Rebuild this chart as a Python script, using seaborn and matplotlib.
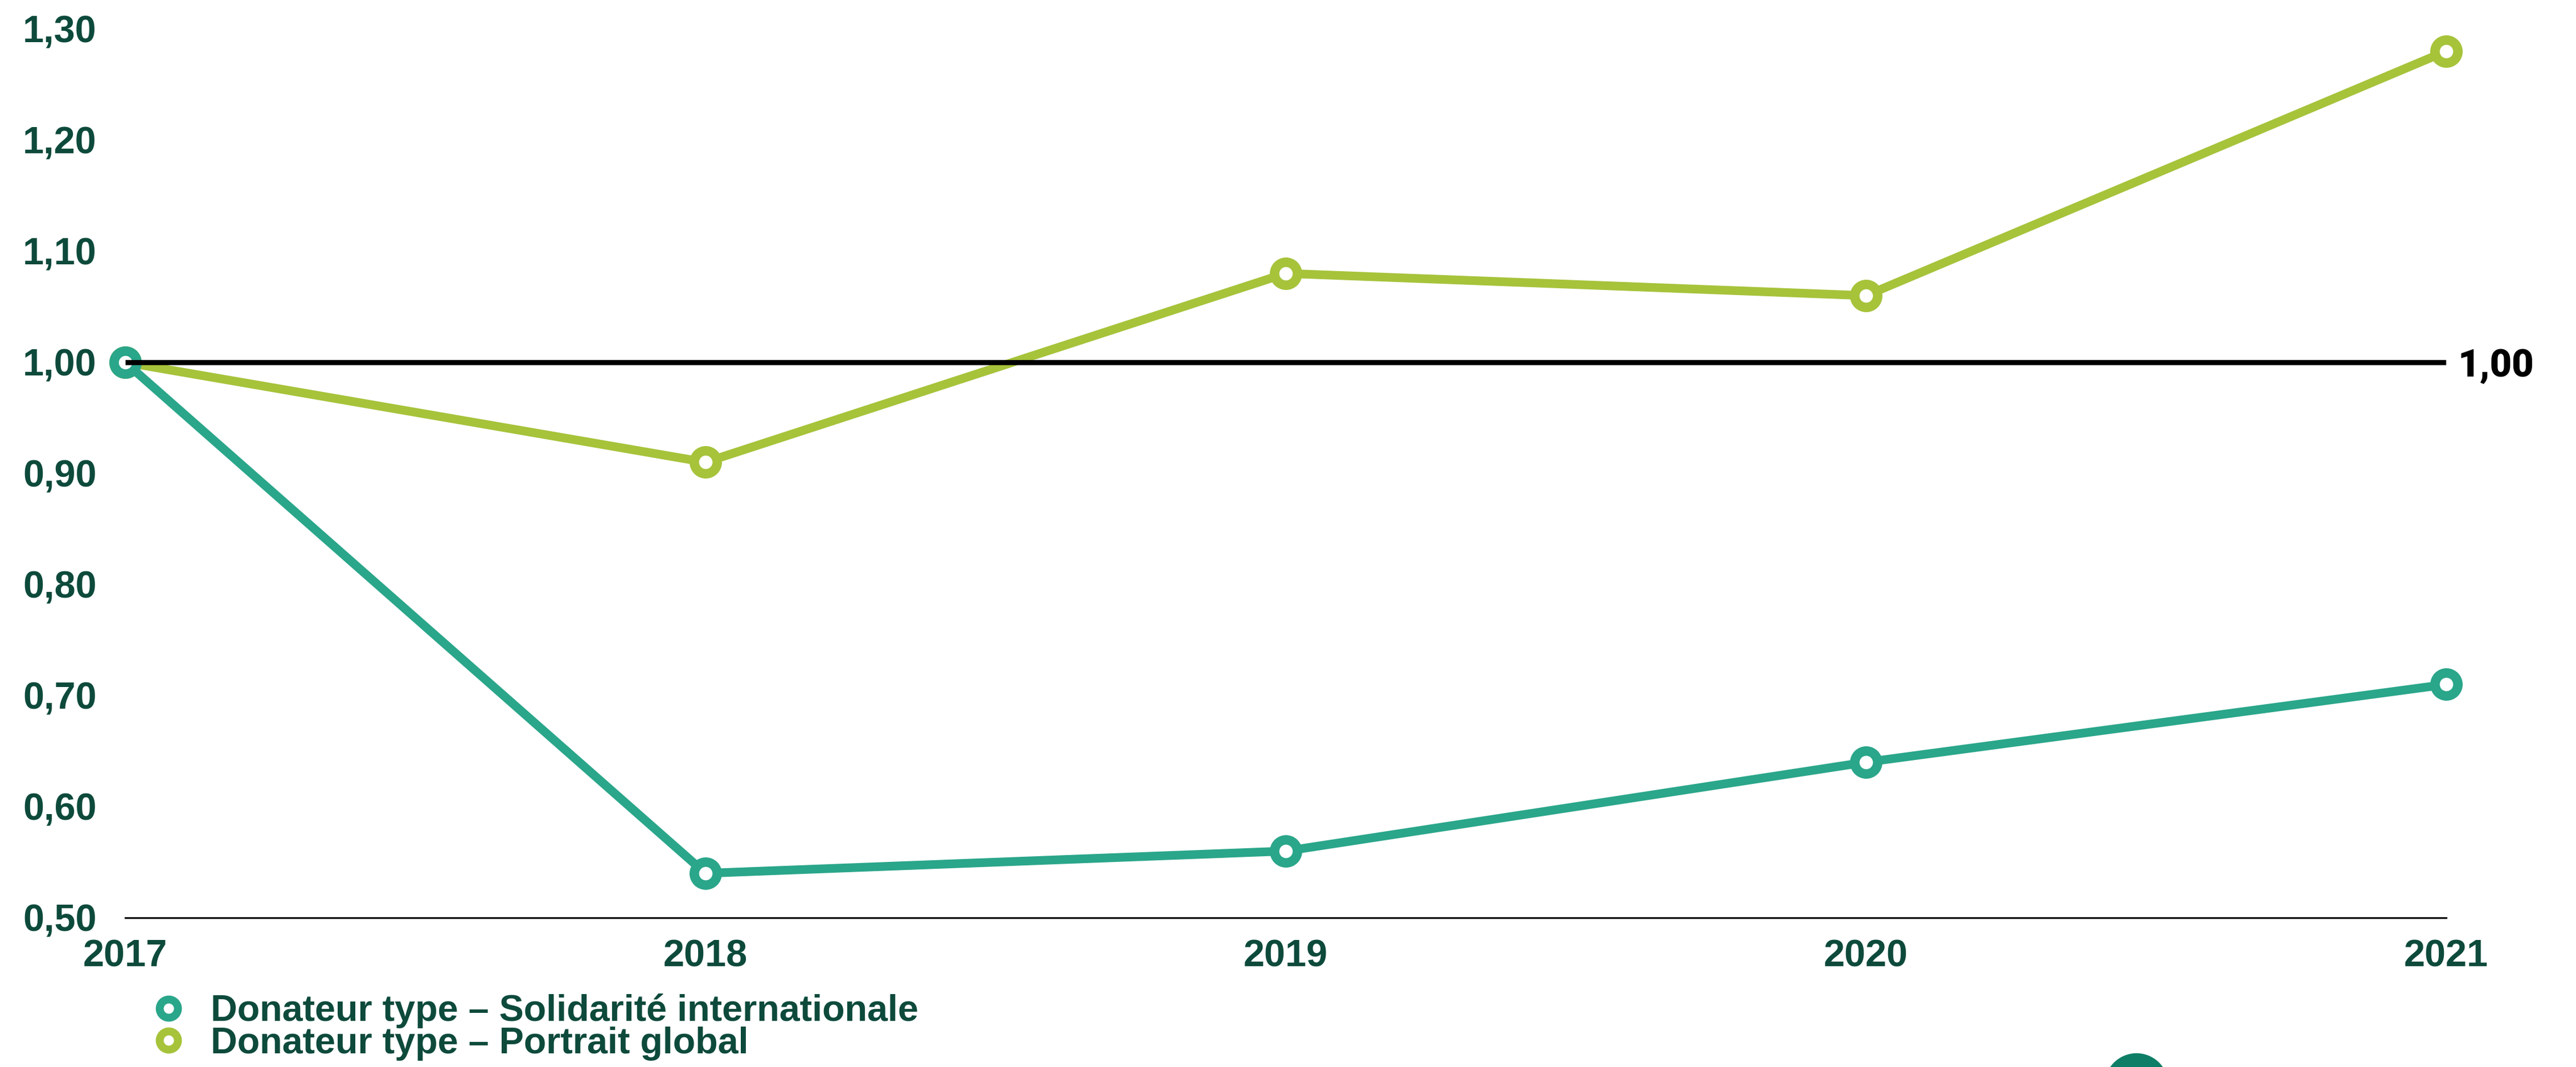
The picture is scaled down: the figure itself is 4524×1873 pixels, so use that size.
import matplotlib
matplotlib.use("Agg")
import matplotlib.pyplot as plt
import pandas as pd
import seaborn as sns
from matplotlib.lines import Line2D
from matplotlib.patches import Ellipse

# données
annees = [2017, 2018, 2019, 2020, 2021]
solidarite = [1.00, 0.54, 0.56, 0.64, 0.71]
portrait = [1.00, 0.91, 1.08, 1.06, 1.28]
series = ["Donateur type – Solidarité internationale", "Donateur type – Portrait global"]
yticks = [0.50, 0.60, 0.70, 0.80, 0.90, 1.00, 1.10, 1.20, 1.30]
ytick_labels = ["0,50", "0,60", "0,70", "0,80", "0,90", "1,00", "1,10", "1,20", "1,30"]
reference = 1.00

VERT_FONCE = "#0d4a3b"
couleurs = {series[0]: "#2aa68a", series[1]: "#a6c33a"}


def preparer_donnees():
    df = pd.DataFrame({
        "annee": annees * 2,
        "indice": solidarite + portrait,
        "serie": [series[0]] * len(annees) + [series[1]] * len(annees),
    })
    return df


def definir_theme():
    sns.set_theme(style="white")
    plt.rcParams["font.family"] = ["Liberation Sans", "DejaVu Sans"]
    plt.rcParams["font.weight"] = "bold"


def gerar_plotagem(df):
    definir_theme()
    fig = plt.figure(figsize=(45.24, 18.73), dpi=100)
    ax = fig.add_axes([0.0486, 0.1399, 0.9010, 0.8329])

    # portrait global dessous, solidarité au-dessus
    for nom in [series[1], series[0]]:
        c = couleurs[nom]
        sns.lineplot(data=df[df["serie"] == nom], x="annee", y="indice",
                     color=c, linewidth=11, marker="o", markersize=29,
                     markeredgewidth=12, markerfacecolor="white",
                     markeredgecolor=c, clip_on=False, zorder=3,
                     legend=False, ax=ax)

    ax.hlines(reference, annees[0], annees[-1], color="black",
              linewidth=6.5, zorder=5)
    ax.annotate(f"{reference:.2f}".replace(".", ","), xy=(annees[-1], reference),
                xytext=(15, 0), textcoords="offset points", ha="left",
                va="center_baseline", fontsize=48, fontweight="heavy",
                family=["Roboto", "DejaVu Sans"], color="black",
                annotation_clip=False)

    ax.set_xlim(annees[0], annees[-1])
    ax.set_ylim(yticks[0], yticks[-1])
    ax.set_xticks(annees)
    ax.set_xticklabels([str(a) for a in annees])
    ax.set_yticks(yticks)
    ax.set_yticklabels(ytick_labels)
    ax.tick_params(axis="y", length=0, pad=36, labelsize=48,
                   labelcolor=VERT_FONCE)
    ax.tick_params(axis="x", length=0, pad=27, labelsize=48,
                   labelcolor=VERT_FONCE)
    for lab in ax.get_xticklabels() + ax.get_yticklabels():
        lab.set_fontweight("bold")
    ax.set_xlabel("")
    ax.set_ylabel("")

    for cote in ["top", "right", "left"]:
        ax.spines[cote].set_visible(False)
    ax.spines["bottom"].set_color("black")
    ax.spines["bottom"].set_linewidth(2.2)

    poignees = [Line2D([], [], linestyle="none", marker="o", markersize=23,
                       markeredgewidth=10, markerfacecolor="white",
                       markeredgecolor=couleurs[nom]) for nom in series]
    fig.legend(poignees, series, loc="center left",
               bbox_to_anchor=(0.0611, 0.0374), frameon=False,
               borderpad=0, borderaxespad=0, handlelength=0.6,
               handletextpad=0.85, labelspacing=-0.06,
               prop={"size": 46.5, "weight": "bold"}, labelcolor=VERT_FONCE)

    # logo partiellement visible en bas
    fig.patches.append(Ellipse((0.8294, -0.0171), 0.02454, 0.05926,
                               transform=fig.transFigure, color="#0e7f66",
                               zorder=1))

    return fig


if __name__ == "__main__":
    df = preparer_donnees()
    fig = gerar_plotagem(df)
    fig.savefig("out.png", dpi=100)
